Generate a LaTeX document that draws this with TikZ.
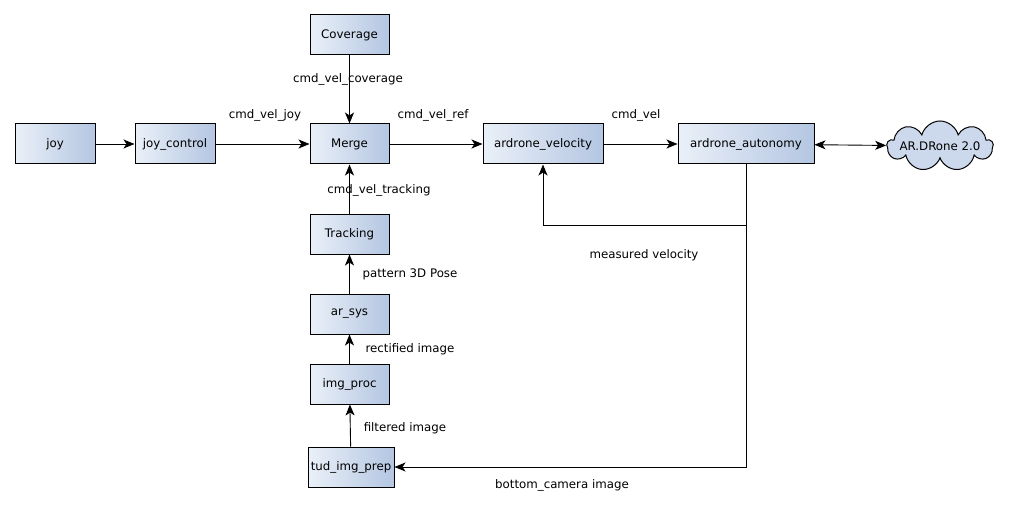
\documentclass[tikz,border=0pt]{standalone}
\usepackage{fontspec}
\setmainfont{DejaVu Sans}
\usetikzlibrary{arrows.meta,shapes.symbols}
\definecolor{boxleft}{HTML}{EAF0F8}
\definecolor{boxright}{HTML}{B4C6E2}
\definecolor{cloudfill}{HTML}{CCD8EC}
\tikzset{
  rosnode/.style={draw, line width=1pt, left color=boxleft, right color=boxright,
    minimum height=40, inner sep=0pt, font=\fontsize{11.8}{14}\selectfont},
  topic/.style={font=\fontsize{11.8}{14}\selectfont},
  flow/.style={-{Stealth[length=11pt,width=9pt,inset=3pt]}, line width=0.9pt}
}

\begin{document}
\begin{tikzpicture}[x=1pt,y=-1pt]
      \useasboundingbox (0,0) rectangle (1015,508);

      \node[rosnode, minimum width=80] (joy) at (55,144){joy};
      \node[rosnode, minimum width=80] (joycontrol) at (175,144){joy\_control};
      \node[rosnode, minimum width=79] (merge) at (349.5,144){Merge};
      \node[rosnode, minimum width=79] (coverage) at (349.5,35){Coverage};
      \node[rosnode, minimum width=120] (velocity) at (543,144){ardrone\_velocity};
      \node[rosnode, minimum width=136] (autonomy) at (746,144){ardrone\_autonomy};
      \node[cloud, draw, line width=1pt, fill=cloudfill, cloud puffs=9, cloud ignores aspect,
            inner xsep=-14pt, inner ysep=0pt, minimum width=106, minimum height=50,
            font=\fontsize{11.8}{14}\selectfont] (drone) at (940,146){AR.DRone 2.0};
      \node[rosnode, minimum width=79] (tracking) at (349.5,234){Tracking};
      \node[rosnode, minimum width=79] (arsys) at (349.5,314){ar\_sys};
      \node[rosnode, minimum width=79] (imgproc) at (349.5,384){img\_proc};
      \node[rosnode, minimum width=86] (prep) at (351,467){tud\_img\_prep};

      \node[topic] (tcoverage) at (348,79){cmd\_vel\_coverage};
      \node[topic] (tjoy) at (265,115){cmd\_vel\_joy};
      \node[topic] (tref) at (433,115){cmd\_vel\_ref};
      \node[topic] (tcmd) at (636,115){cmd\_vel};
      \node[topic] (ttracking) at (379,190){cmd\_vel\_tracking};
      \node[topic] (tpose) at (410,274){pattern 3D Pose};
      \node[topic] (trect) at (410,349){rectified image};
      \node[topic] (tfilt) at (405,428){filtered image};
      \node[topic] (tmeas) at (644,255){measured velocity};
      \node[topic] (tbottom) at (562,485){bottom\_camera image};

      \coordinate (split) at (746,225);

      \draw[flow] (joy) -- (joycontrol);
      \draw[flow] (joycontrol) -- (merge);
      \draw[flow] (coverage) -- (merge);
      \draw[flow] (tracking) -- (merge);
      \draw[flow] (merge) -- (velocity);
      \draw[flow] (velocity) -- (autonomy);
      \draw[flow, {Stealth[length=11pt,width=9pt,inset=3pt]}-{Stealth[length=11pt,width=9pt,inset=3pt]}] (autonomy) -- (drone);
      \draw[flow] (arsys) -- (tracking);
      \draw[flow] (imgproc) -- (arsys);
      \draw[flow] (prep) -- (imgproc);
      \draw[flow] (autonomy) |- (prep);
      \draw[flow] (split) -| (velocity);
    \end{tikzpicture}
\end{document}
